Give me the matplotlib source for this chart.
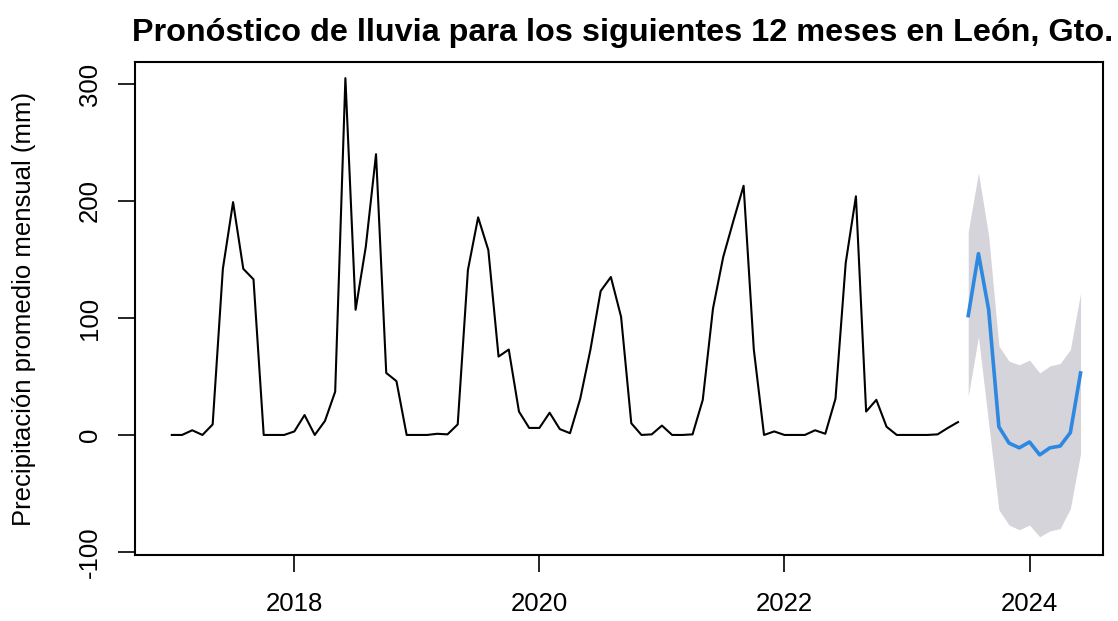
import matplotlib
matplotlib.use("Agg")
import matplotlib.pyplot as plt
import numpy as np

plt.rcParams['font.family'] = ['Liberation Sans', 'DejaVu Sans']

# monthly rainfall, Jan 2017 - Jun 2023
lluvia = [
    0, 0, 4, 0, 9, 142, 199, 142, 133, 0, 0, 0,          # 2017
    3, 17, 0, 12, 37, 305, 107, 161, 240, 53, 46, 0,    # 2018
    0, 0, 1, 0.5, 9, 141, 186, 158, 67, 73, 20, 6,      # 2019
    6, 19, 5, 1.5, 31, 73, 123, 135, 101, 10, 0, 0.5,   # 2020
    8, 0, 0, 0.5, 30, 108, 152, 183, 213, 73, 0, 3,     # 2021
    0, 0, 0, 4, 1, 31, 147, 204, 20, 30, 7, 0,          # 2022
    0, 0, 0, 0.5, 6, 11,                                # 2023
]

# 12 month forecast, Jul 2023 - Jun 2024
pronostico = [102, 155, 107, 7, -7, -11, -6, -17, -11, -9.5, 2, 53]
limite_sup = [174, 224, 170, 76, 63, 60, 64, 53, 59, 61, 73, 121]
limite_inf = [33, 84, 10, -64, -77, -81, -77, -87, -82, -80, -63, -16]

t_hist = 2017 + np.arange(len(lluvia)) / 12
t_fc = t_hist[-1] + (np.arange(1, len(pronostico) + 1)) / 12

fig = plt.figure(figsize=(11.18, 6.21), dpi=100)
ax = fig.add_axes([0.1208, 0.1063, 0.8658, 0.7939])

ax.fill_between(t_fc, limite_inf, limite_sup, color='#D4D4DA', lw=0)
ax.plot(t_hist, lluvia, color='black', lw=1.5)
ax.plot(t_fc, pronostico, color='#2E88E0', lw=2.6)

ax.set_xlim(2016.70, 2024.60)
ax.set_ylim(-102.6, 318.8)
ax.set_xticks([2018, 2020, 2022, 2024])
ax.set_yticks([-100, 0, 100, 200, 300])
ax.set_yticklabels(['-100', '0', '100', '200', '300'], rotation=90, va='center')

ax.tick_params(axis='both', direction='out', length=12, width=1.2, labelsize=18.5,
               colors='black')
ax.tick_params(axis='x', pad=15)
ax.tick_params(axis='y', pad=12)
for s in ax.spines.values():
    s.set_linewidth(1.5)

ax.set_ylabel('Precipitación promedio mensual (mm)', fontsize=18.5, labelpad=30)
ax.set_title('Pronóstico de lluvia para los siguientes 12 meses en León, Gto.',
             fontsize=23.3, fontweight='bold', pad=15, x=0.504)

fig.savefig('out.png', dpi=100)
